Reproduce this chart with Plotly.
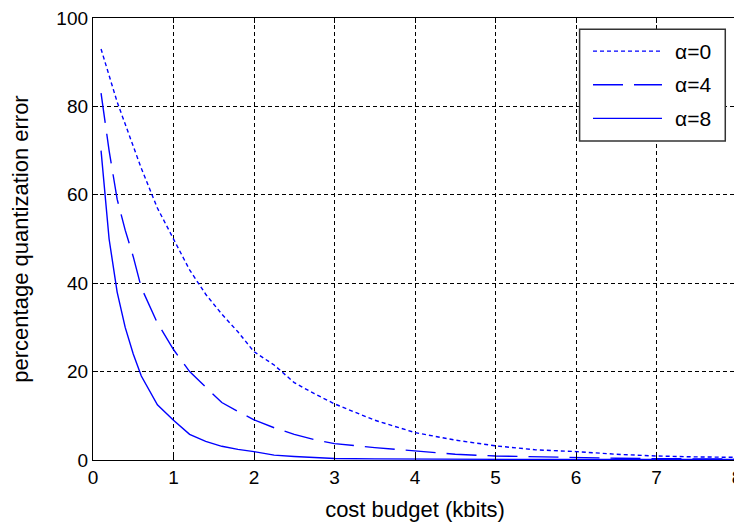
import plotly.graph_objects as go

# ---- data ----
x_a0 = [0.1, 0.2, 0.3, 0.4, 0.5, 0.6, 0.8, 1.0, 1.2, 1.4, 1.6, 1.8, 2.0, 2.25, 2.5, 2.75, 3.0,
        3.5, 4.0, 4.5, 5.0, 5.5, 6.0, 6.5, 7.0, 7.5, 8.0]
y_a0 = [93, 87, 81, 76, 71, 66, 57, 50, 43, 37.5, 33, 29, 24.5, 21.5, 17.5, 15, 12.7,
        9, 6.2, 4.5, 3.2, 2.3, 1.9, 1.3, 0.9, 0.7, 0.6]

x_a4 = [0.1, 0.2, 0.3, 0.4, 0.5, 0.6, 0.8, 1.0, 1.2, 1.4, 1.6, 1.8, 2.0, 2.25, 2.5, 2.75, 3.0,
        3.5, 4.0, 4.5, 5.0, 5.5, 6.0, 6.5, 7.0, 7.5, 8.0]
y_a4 = [83, 70, 59, 52, 46, 39, 31, 25, 20, 16.5, 13, 11, 9.1, 7.3, 5.8, 4.6, 3.7,
        2.8, 2.0, 1.3, 0.9, 0.7, 0.5, 0.4, 0.3, 0.3, 0.2]

x_a8 = [0.1, 0.15, 0.2, 0.3, 0.4, 0.5, 0.6, 0.8, 1.0, 1.2, 1.4, 1.6, 1.8, 2.0, 2.25, 2.5, 2.75,
        3.0, 3.5, 4.0, 5.0, 6.0, 7.0, 8.0]
y_a8 = [70, 59, 50, 38, 30, 24, 19, 12.5, 9.0, 5.8, 4.2, 3.1, 2.4, 1.9, 1.1, 0.8, 0.5,
        0.35, 0.25, 0.2, 0.15, 0.1, 0.1, 0.1]

series_names = ["α=0", "α=4", "α=8"]
series_dash = ["4px,3px", "30px,11px", "solid"]

x_ticks = [0, 1, 2, 3, 4, 5, 6, 7, 8]
y_ticks = [0, 20, 40, 60, 80, 100]

BLUE = "#0000FF"
FONT = "Liberation Sans, Arial, sans-serif"

fig = go.Figure()
for xs, ys, name, dash in zip([x_a0, x_a4, x_a8], [y_a0, y_a4, y_a8], series_names, series_dash):
    fig.add_trace(go.Scatter(x=xs, y=ys, mode="lines", name=name,
                             line=dict(color=BLUE, width=1.4, dash=dash),
                             showlegend=False))

axis_common = dict(
    showline=True, linecolor="black", linewidth=1.3, mirror="ticks",
    ticks="inside", ticklen=5, tickcolor="black", tickwidth=1,
    showgrid=True, gridcolor="black", gridwidth=1.4, griddash="4px,3px",
    zeroline=False, automargin=False, ticklabeloverflow="allow",
    tickfont=dict(family=FONT, size=19, color="black"),
)

fig.update_xaxes(range=[0, 8], tickvals=x_ticks,
                 title=dict(text="cost budget (kbits)", font=dict(family=FONT, size=22, color="black"), standoff=14),
                 **axis_common)
fig.update_yaxes(range=[0, 100], tickvals=y_ticks,
                 title=dict(text="percentage quantization error", font=dict(family=FONT, size=22, color="black"), standoff=24),
                 **axis_common)

# custom legend (long line samples as in the reference)
lx0, lx1, ly0, ly1 = 0.7556, 0.9818, 0.7220, 0.9744
fig.add_shape(type="rect", xref="paper", yref="paper", x0=lx0, x1=lx1, y0=ly0, y1=ly1,
              line=dict(color="#333333", width=1.5), fillcolor="white", layer="above")
row_y = [0.9250, 0.8490, 0.7730]
for name, dash, yy in zip(series_names, series_dash, row_y):
    fig.add_shape(type="line", xref="paper", yref="paper", x0=0.7764, x1=0.8835, y0=yy, y1=yy,
                  line=dict(color=BLUE, width=1.4, dash=dash), layer="above")
    fig.add_annotation(xref="paper", yref="paper", x=0.9006, y=yy, text=name, showarrow=False,
                       xanchor="left", yanchor="middle",
                       font=dict(family=FONT, size=21, color="black"))

# page has an 8px body margin, so margins are shifted by 8px
fig.update_layout(
    width=742, height=524,
    margin=dict(l=85, r=13, t=10, b=72),
    paper_bgcolor="white", plot_bgcolor="white",
    showlegend=False,
)

fig.write_html("out.html")
